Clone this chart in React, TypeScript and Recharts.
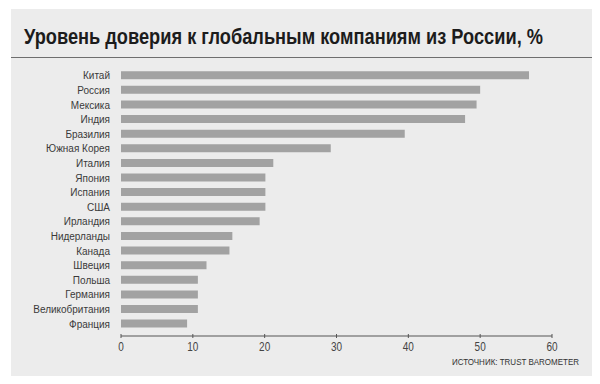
import { BarChart, Bar, XAxis, YAxis } from 'recharts';

const countries = [
  'Китай', 'Россия', 'Мексика', 'Индия', 'Бразилия', 'Южная Корея',
  'Италия', 'Япония', 'Испания', 'США', 'Ирландия', 'Нидерланды',
  'Канада', 'Швеция', 'Польша', 'Германия', 'Великобритания', 'Франция',
];
const trust = [
  56.8, 50.0, 49.5, 47.9, 39.5, 29.2,
  21.2, 20.1, 20.1, 20.1, 19.3, 15.5,
  15.1, 11.9, 10.7, 10.7, 10.7, 9.2,
];
const xTicks = [0, 10, 20, 30, 40, 50, 60];

const title = 'Уровень доверия к глобальным компаниям из России, %';
const source = 'ИСТОЧНИК: TRUST BAROMETER';

const font = "'Liberation Sans', Arial, sans-serif";

const data = countries.map((name, i) => ({ name, value: trust[i] }));

// reference uses a condensed face, so squeeze a regular one
const XTick = (props: any) => {
  const { x, y, payload } = props;
  return (
    <g>
      <line x1={x} x2={x} y1={y - 2} y2={y + 2} stroke="#555" strokeWidth={1} />
      <text
        transform={`translate(${x},${y + 15}) scale(0.8,1)`}
        textAnchor="middle"
        fontSize={12.5}
        fill="#444"
        fontFamily={font}
      >
        {payload.value}
      </text>
    </g>
  );
};

const YTick = (props: any) => {
  const { x, y, payload } = props;
  return (
    <text
      transform={`translate(${x},${y + 4}) scale(0.87,1)`}
      textAnchor="end"
      fontSize={11.5}
      fill="#3a3a3a"
      fontFamily={font}
    >
      {payload.value}
    </text>
  );
};

export default function App() {
  return (
    <div style={{ position: 'absolute', left: 0, top: 0, width: 600, height: 384, background: '#fff' }}>
      <div style={{ position: 'absolute', left: 11, top: 9, width: 581, height: 367, background: '#ececec' }} />
      <div style={{ position: 'absolute', left: 11, top: 57, width: 581, height: 1, background: '#6e6e6e' }} />
      <div style={{ position: 'absolute', left: 0, top: 0 }}>
        <BarChart
          width={600}
          height={384}
          data={data}
          layout="vertical"
          margin={{ top: 68, right: 48, bottom: 0, left: 0 }}
          barCategoryGap="22%"
        >
          <XAxis
            type="number"
            domain={[0, 60]}
            ticks={xTicks}
            axisLine={{ stroke: '#555', strokeWidth: 1 }}
            tickLine={false}
            tickSize={0}
            tickMargin={0}
            tick={<XTick />}
            height={48}
            interval={0}
          />
          <YAxis
            type="category"
            dataKey="name"
            width={121}
            axisLine={false}
            tickLine={false}
            tickSize={0}
            tickMargin={11}
            interval={0}
            padding={{ top: 0, bottom: 5 }}
            tick={<YTick />}
          />
          <Bar dataKey="value" fill="#a2a2a2" isAnimationActive={false} />
        </BarChart>
      </div>
      <svg width={600} height={384} style={{ position: 'absolute', left: 0, top: 0 }}>
        <text
          x={24}
          y={43.5}
          fontFamily={font}
          fontWeight="bold"
          fontSize={22}
          fill="#1c1c1c"
          textLength={519}
          lengthAdjust="spacingAndGlyphs"
        >
          {title}
        </text>
        <text
          x={452}
          y={365}
          fontFamily={font}
          fontSize={9}
          fill="#333"
          textLength={127}
          lengthAdjust="spacingAndGlyphs"
        >
          {source}
        </text>
      </svg>
    </div>
  );
}
